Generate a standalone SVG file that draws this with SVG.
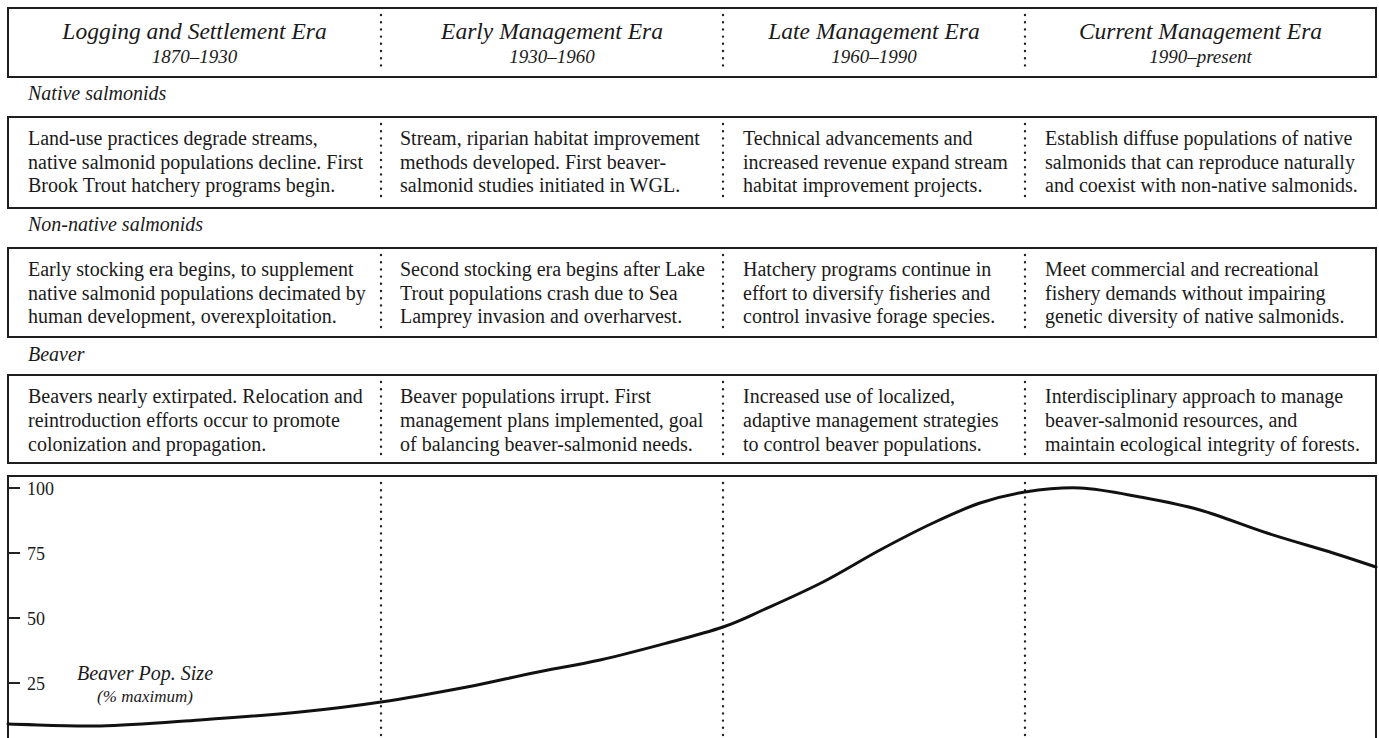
<svg xmlns="http://www.w3.org/2000/svg" width="1379" height="738" viewBox="0 0 1379 738">
<style>
.box{fill:#fff;stroke:#1e1e1e;stroke-width:2}
.div{stroke:#222;stroke-width:2.4;stroke-linecap:round;stroke-dasharray:0 7.2;fill:none}
.t{font-family:"Liberation Serif","Times New Roman",serif;fill:#1a1a1a}
.title{font-size:23.5px;font-style:italic;text-anchor:middle}
.year{font-size:19px;font-style:italic;text-anchor:middle}
.lab{font-size:20px;font-style:italic}
.body{font-size:20px}
.ax{font-size:18px}
.tick{stroke:#222;stroke-width:2}
</style>
<rect width="1379" height="738" fill="#fff"/>

<g id="header">
<rect class="box" x="8" y="8" width="1368" height="69"/>
<text class="t title" x="194.5" y="39">Logging and Settlement Era</text>
<text class="t year" x="194.5" y="63">1870–1930</text>
<text class="t title" x="552" y="39">Early Management Era</text>
<text class="t year" x="552" y="63">1930–1960</text>
<text class="t title" x="874" y="39">Late Management Era</text>
<text class="t year" x="874" y="63">1960–1990</text>
<text class="t title" x="1200.5" y="39">Current Management Era</text>
<text class="t year" x="1200.5" y="63">1990–present</text>
<path class="div" d="M381,15V72M723,15V72M1025,15V72"/>
</g>

<g id="native">
<text class="t lab" x="28" y="100">Native salmonids</text>
<rect class="box" x="8" y="117" width="1368" height="91"/>
<path class="div" d="M381,124V203M723,124V203M1025,124V203"/>
<text class="t body" x="28" y="145">Land-use practices degrade streams,</text>
<text class="t body" x="28" y="168.5">native salmonid populations decline. First</text>
<text class="t body" x="28" y="192">Brook Trout hatchery programs begin.</text>
<text class="t body" x="400" y="145">Stream, riparian habitat improvement</text>
<text class="t body" x="400" y="168.5">methods developed. First beaver-</text>
<text class="t body" x="400" y="192">salmonid studies initiated in WGL.</text>
<text class="t body" x="743" y="145">Technical advancements and</text>
<text class="t body" x="743" y="168.5">increased revenue expand stream</text>
<text class="t body" x="743" y="192">habitat improvement projects.</text>
<text class="t body" x="1045" y="145">Establish diffuse populations of native</text>
<text class="t body" x="1045" y="168.5">salmonids that can reproduce naturally</text>
<text class="t body" x="1045" y="192">and coexist with non-native salmonids.</text>
</g>

<g id="nonnative">
<text class="t lab" x="28" y="231">Non-native salmonids</text>
<rect class="box" x="8" y="248" width="1368" height="89"/>
<path class="div" d="M381,255V331M723,255V331M1025,255V331"/>
<text class="t body" x="28" y="276">Early stocking era begins, to supplement</text>
<text class="t body" x="28" y="300">native salmonid populations decimated by</text>
<text class="t body" x="28" y="323">human development, overexploitation.</text>
<text class="t body" x="400" y="276">Second stocking era begins after Lake</text>
<text class="t body" x="400" y="300">Trout populations crash due to Sea</text>
<text class="t body" x="400" y="323">Lamprey invasion and overharvest.</text>
<text class="t body" x="743" y="276">Hatchery programs continue in</text>
<text class="t body" x="743" y="300">effort to diversify fisheries and</text>
<text class="t body" x="743" y="323">control invasive forage species.</text>
<text class="t body" x="1045" y="276">Meet commercial and recreational</text>
<text class="t body" x="1045" y="300">fishery demands without impairing</text>
<text class="t body" x="1045" y="323">genetic diversity of native salmonids.</text>
</g>

<g id="beaver">
<text class="t lab" x="28" y="361">Beaver</text>
<rect class="box" x="8" y="375" width="1368" height="88"/>
<path class="div" d="M381,382V457M723,382V457M1025,382V457"/>
<text class="t body" x="28" y="403">Beavers nearly extirpated. Relocation and</text>
<text class="t body" x="28" y="427">reintroduction efforts occur to promote</text>
<text class="t body" x="28" y="451">colonization and propagation.</text>
<text class="t body" x="400" y="403">Beaver populations irrupt. First</text>
<text class="t body" x="400" y="427">management plans implemented, goal</text>
<text class="t body" x="400" y="451">of balancing beaver-salmonid needs.</text>
<text class="t body" x="743" y="403">Increased use of localized,</text>
<text class="t body" x="743" y="427">adaptive management strategies</text>
<text class="t body" x="743" y="451">to control beaver populations.</text>
<text class="t body" x="1045" y="403">Interdisciplinary approach to manage</text>
<text class="t body" x="1045" y="427">beaver-salmonid resources, and</text>
<text class="t body" x="1045" y="451">maintain ecological integrity of forests.</text>
</g>

<g id="chart">
<path d="M8,745V476H1376V745" fill="none" stroke="#1e1e1e" stroke-width="2"/>
<path class="div" d="M381,483V736M723,483V736M1025,483V736"/>
<path class="tick" d="M8,488H20M8,553H20M8,618H20M8,683H20"/>
<text class="t ax" x="27" y="494.5">100</text>
<text class="t ax" x="27" y="559.5">75</text>
<text class="t ax" x="27" y="624.5">50</text>
<text class="t ax" x="27" y="689.5">25</text>
<text class="t lab" x="145" y="680" text-anchor="middle">Beaver Pop. Size</text>
<text class="t" x="145" y="702" font-size="17" font-style="italic" text-anchor="middle">(% maximum)</text>
</g>

<g id="connectors">
<path d="M8,724 C38.7,724.7 68,726.7 100,726 C132,725.3 166.7,722.3 200,720 C233.3,717.7 269.8,715 300,712 C330.2,709 353.2,706.2 381,702 C408.8,697.8 441.7,691.8 467,687 C492.3,682.2 510.8,677.5 533,673 C555.2,668.5 577.7,665 600,660 C622.3,655 646.5,648.5 667,643 C687.5,637.5 707,632.5 723,627 C739,621.5 746.3,617.5 763,610 C779.7,602.5 803.5,592 823,582 C842.5,572 861.7,559.8 880,550 C898.3,540.2 916.3,530.8 933,523 C949.7,515.2 964.7,508.2 980,503 C995.3,497.8 1008.3,494.5 1025,492 C1041.7,489.5 1060.8,487.2 1080,488 C1099.2,488.8 1120,493.3 1140,497 C1160,500.7 1178.8,504 1200,510 C1221.2,516 1244.8,525.8 1267,533 C1289.2,540.2 1314.8,547.3 1333,553 C1351.2,558.7 1361.7,562.3 1376,567" fill="none" stroke="#111" stroke-width="3" stroke-linecap="round"/>
</g>
</svg>
